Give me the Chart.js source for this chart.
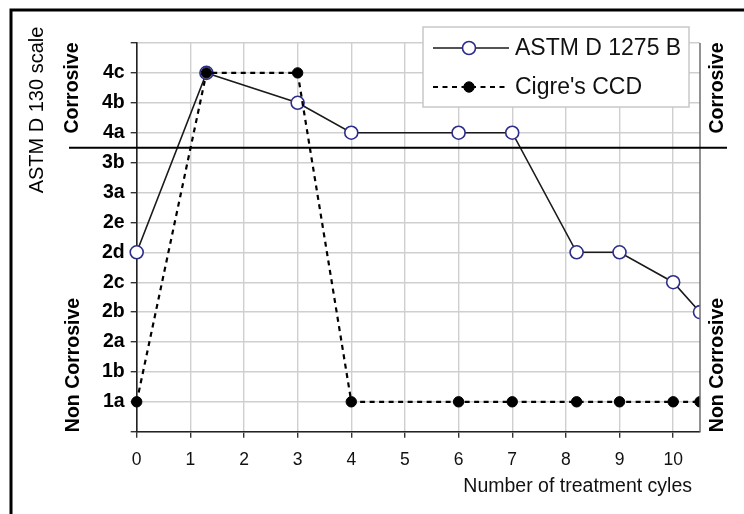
<!DOCTYPE html>
<html>
<head>
<meta charset="utf-8">
<title>Corrosion vs treatment cycles</title>
<script src="https://cdn.jsdelivr.net/npm/chart.js@4.4.1/dist/chart.umd.min.js"></script>
<style>
  html, body { margin: 0; padding: 0; background: #fff; }
  #wrap { position: relative; width: 744px; height: 514px; }
</style>
</head>
<body>
<div id="wrap"><canvas id="cycles-chart" width="744" height="514"></canvas></div>
<script>
// ASTM D 130 copper strip grades, least corrosive first
const grades = ['1a', '1b', '2a', '2b', '2c', '2d', '2e', '3a', '3b', '4a', '4b', '4c'];

// Number of treatment cycles and the grade reached by each test
const cycles = [0, 1.3, 3, 4, 6, 7, 8.2, 9, 10, 10.5];
const astmD1275B = ['2d', '4c', '4b', '4a', '4a', '4a', '2d', '2d', '2c', '2b'];
const cigreCCD = ['1a', '4c', '4c', '1a', '1a', '1a', '1a', '1a', '1a', '1a'];

const xTicks = [0, 1, 2, 3, 4, 5, 6, 7, 8, 9, 10];
const corrosiveLimit = 9.5; // boundary between 3b and 4a

const FONT = "'Liberation Sans', Arial, sans-serif";

// grade '1a' sits on 1, '4c' on 12 (0 and 13 are the blank ends of the axis)
const gradeValue = g => grades.indexOf(g) + 1;
const toPoints = series => series.map((g, i) => ({ x: cycles[i], y: gradeValue(g) }));

/**
 * Frame, side captions, corrosive limit line, legend box and x title
 */
const decorations = {
  id: 'decorations',
  beforeDraw(chart) {
    const ctx = chart.ctx;
    ctx.save();
    ctx.fillStyle = '#fff';
    ctx.fillRect(0, 0, chart.width, chart.height);
    ctx.restore();
  },
  afterDatasetsDraw(chart) {
    const ctx = chart.ctx;
    const area = chart.chartArea;
    const y = chart.scales.y.getPixelForValue(corrosiveLimit);
    ctx.save();
    // right edge of the plot
    ctx.strokeStyle = '#6e6e6e';
    ctx.lineWidth = 1.5;
    ctx.beginPath();
    ctx.moveTo(area.right, area.top);
    ctx.lineTo(area.right, area.bottom);
    ctx.stroke();
    // corrosive / non corrosive limit
    ctx.strokeStyle = '#000';
    ctx.lineWidth = 2;
    ctx.beginPath();
    ctx.moveTo(69, y);
    ctx.lineTo(727, y);
    ctx.stroke();
    ctx.restore();
  },
  afterDraw(chart) {
    const ctx = chart.ctx;
    ctx.save();

    // outer frame (open at right and bottom)
    ctx.strokeStyle = '#000';
    ctx.lineWidth = 3;
    ctx.beginPath();
    ctx.moveTo(11, chart.height);
    ctx.lineTo(11, 10);
    ctx.lineTo(chart.width, 10);
    ctx.stroke();

    const vText = (text, x, y, font) => {
      ctx.save();
      ctx.translate(x, y);
      ctx.rotate(-Math.PI / 2);
      ctx.font = font;
      ctx.fillStyle = '#000';
      ctx.textAlign = 'center';
      ctx.textBaseline = 'middle';
      ctx.fillText(text, 0, 0);
      ctx.restore();
    };
    vText('ASTM D 130 scale', 37, 110, `20px ${FONT}`);
    vText('Corrosive', 73, 88, `bold 19.5px ${FONT}`);
    vText('Non Corrosive', 74, 365, `bold 19.5px ${FONT}`);
    vText('Corrosive', 718, 88, `bold 19.5px ${FONT}`);
    vText('Non Corrosive', 718, 365, `bold 19.5px ${FONT}`);

    // x axis title, right aligned under the last ticks
    ctx.font = `19.5px ${FONT}`;
    ctx.fillStyle = '#111';
    ctx.textAlign = 'right';
    ctx.textBaseline = 'middle';
    ctx.fillText('Number of treatment cyles', 692, 487);

    // legend box
    ctx.fillStyle = '#fff';
    ctx.fillRect(423, 27, 266, 80);
    ctx.strokeStyle = '#c8c8c8';
    ctx.lineWidth = 1.5;
    ctx.strokeRect(423, 27, 266, 80);

    const rows = [48, 87];
    chart.data.datasets.forEach((ds, i) => {
      const ry = rows[i];
      ctx.strokeStyle = ds.borderColor;
      ctx.lineWidth = ds.borderWidth;
      ctx.setLineDash(ds.borderDash || []);
      ctx.beginPath();
      ctx.moveTo(433, ry);
      ctx.lineTo(509, ry);
      ctx.stroke();
      ctx.setLineDash([]);
      ctx.beginPath();
      ctx.arc(469, ry, ds.pointRadius, 0, Math.PI * 2);
      ctx.fillStyle = ds.pointBackgroundColor;
      ctx.fill();
      ctx.strokeStyle = ds.pointBorderColor;
      ctx.lineWidth = ds.pointBorderWidth;
      ctx.stroke();
      ctx.font = `23px ${FONT}`;
      ctx.fillStyle = '#111';
      ctx.textAlign = 'left';
      ctx.textBaseline = 'middle';
      ctx.fillText(ds.label, 515, ry + 1);
    });

    ctx.restore();
  }
};

const ctx = document.getElementById('cycles-chart').getContext('2d');

new Chart(ctx, {
  type: 'line',
  data: {
    datasets: [
      {
        label: 'ASTM D 1275 B',
        data: toPoints(astmD1275B),
        borderColor: '#1a1a1a',
        borderWidth: 1.6,
        pointRadius: 6.5,
        pointBackgroundColor: '#fff',
        pointBorderColor: '#2c2c8c',
        pointBorderWidth: 1.6,
        tension: 0,
        order: 1,
        clip: { left: false, top: false, right: 0, bottom: false },
      },
      {
        label: "Cigre's CCD",
        data: toPoints(cigreCCD),
        borderColor: '#000',
        borderWidth: 2.2,
        borderDash: [5, 4.5],
        pointRadius: 5.2,
        pointBackgroundColor: '#000',
        pointBorderColor: '#000',
        pointBorderWidth: 1,
        tension: 0,
        order: 0,
        clip: { left: false, top: false, right: 0, bottom: false },
      },
    ],
  },
  options: {
    responsive: false,
    animation: false,
    layout: {
      padding: { left: 86.7, right: 44, top: 43, bottom: 32.3 },
    },
    plugins: {
      legend: { display: false },
      tooltip: { enabled: false },
    },
    scales: {
      x: {
        type: 'linear',
        min: 0,
        max: 10.5,
        afterBuildTicks: axis => { axis.ticks = xTicks.map(v => ({ value: v })); },
        afterFit: axis => { axis.height = 50; },
        grid: {
          color: '#cfcfcf',
          lineWidth: 1.4,
          tickLength: 6,
          tickColor: '#333',
        },
        border: { color: '#222', width: 1.6 },
        ticks: {
          padding: 12,
          color: '#111',
          font: { family: FONT, size: 17.5 },
        },
      },
      y: {
        type: 'linear',
        min: 0,
        max: 13,
        afterBuildTicks: axis => {
          axis.ticks = Array.from({ length: grades.length + 2 }, (_, i) => ({ value: i }));
        },
        afterFit: axis => { axis.width = 50; },
        grid: {
          color: '#cfcfcf',
          lineWidth: 1.4,
          tickLength: 6,
          tickColor: '#333',
        },
        border: { color: '#222', width: 1.6 },
        ticks: {
          padding: 6,
          color: '#000',
          font: { family: FONT, size: 19.5, weight: 'bold' },
          callback: v => grades[v - 1] || '',
        },
      },
    },
  },
  plugins: [decorations],
});
</script>
</body>
</html>
